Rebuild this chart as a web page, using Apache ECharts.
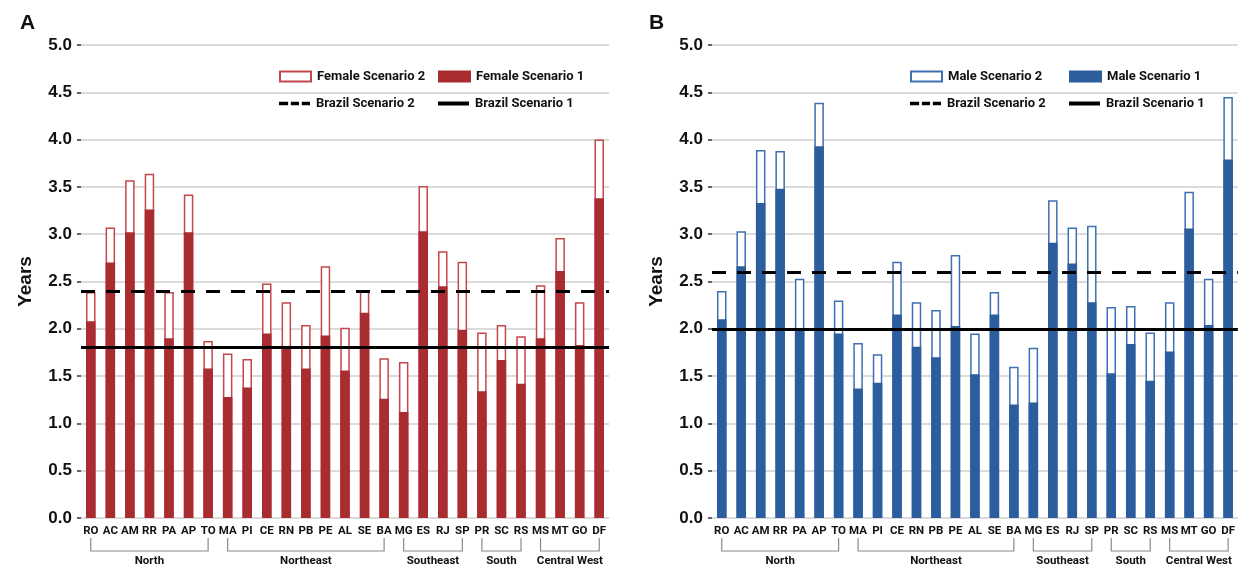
<!DOCTYPE html>
<html>
<head>
<meta charset="utf-8">
<script src="https://cdn.jsdelivr.net/npm/echarts@6/dist/echarts.min.js"></script>
<style>
  html, body { margin: 0; padding: 0; background: #fff; }
  #chart { width: 1238px; height: 568px; }
</style>
</head>
<body>
<div id="chart"></div>
<script>
const states = ['RO','AC','AM','RR','PA','AP','TO','MA','PI','CE','RN','PB','PE','AL','SE','BA','MG','ES','RJ','SP','PR','SC','RS','MS','MT','GO','DF']

const femaleScenario1 = [2.08,2.70,3.02,3.26,1.90,3.02,1.58,1.28,1.38,1.95,1.81,1.58,1.93,1.56,2.17,1.26,1.12,3.03,2.45,1.99,1.34,1.67,1.42,1.90,2.61,1.83,3.38]
const femaleScenario2 = [2.39,3.07,3.57,3.64,2.39,3.42,1.87,1.74,1.68,2.48,2.28,2.04,2.66,2.01,2.40,1.69,1.65,3.51,2.82,2.71,1.96,2.04,1.92,2.46,2.96,2.28,4.00]
const maleScenario1 = [2.10,2.66,3.33,3.48,1.99,3.93,1.95,1.37,1.43,2.15,1.81,1.70,2.03,1.52,2.15,1.20,1.22,2.91,2.69,2.28,1.53,1.84,1.45,1.76,3.06,2.04,3.79]
const maleScenario2 = [2.40,3.03,3.89,3.88,2.53,4.39,2.30,1.85,1.73,2.71,2.28,2.20,2.78,1.95,2.39,1.60,1.80,3.36,3.07,3.09,2.23,2.24,1.96,2.28,3.45,2.53,4.45]

// Brazil reference lines: [scenario 1, scenario 2]
const brazilFemale = [1.8, 2.4]
const brazilMale = [2.0, 2.6]

const regionNames = ['North','Northeast','Southeast','South','Central West']
const regionFirst = [0, 7, 16, 20, 23]
const regionLast = [6, 15, 19, 22, 26]

const yTicks = { min: 0, max: 5, interval: 0.5 }

const RED = '#a82c30'
const RED_EDGE = '#c4474b'
const BLUE = '#2c5e9e'
const BLUE_EDGE = '#3e70b2'

const labelFont = 'Roboto, "Liberation Sans", sans-serif'
const axisFont = '"Liberation Sans", Arial, sans-serif'
const dashIcon = 'path://M0,0h10v4h-10z M13,0h9v4h-9z M25,0h9v4h-9z'

const chart = echarts.init(document.getElementById('chart'), null, { renderer: 'canvas' })

const grids = [
  { left: 81, top: 45, width: 528, height: 473 },
  { left: 712, top: 45, width: 526, height: 473 },
]

function xAxisFor(i) {
  return {
    type: 'category',
    gridIndex: i,
    data: states,
    axisLine: { show: false },
    axisTick: { show: false },
    axisLabel: {
      interval: 0,
      margin: 7,
      color: '#111',
      fontFamily: labelFont,
      fontWeight: 'bold',
      fontSize: 11.5,
    },
  }
}

function yAxisFor(i) {
  return {
    type: 'value',
    gridIndex: i,
    min: yTicks.min,
    max: yTicks.max,
    interval: yTicks.interval,
    name: 'Years',
    nameLocation: 'middle',
    nameGap: 46,
    nameTextStyle: {
      fontFamily: axisFont,
      fontWeight: 'bold',
      fontSize: 19,
      color: '#111',
    },
    axisLine: { show: false },
    axisTick: { show: true, length: 4, lineStyle: { color: '#333', width: 1.5 } },
    axisLabel: {
      margin: 9,
      formatter: (v) => v.toFixed(1),
      fontFamily: axisFont,
      fontWeight: 'bold',
      fontSize: 17,
      color: '#111',
    },
    splitLine: { lineStyle: { color: '#cfcfcf', width: 1.5 } },
  }
}

function barPair(i, prefix, s1, s2, fill, edge) {
  return [
    {
      name: prefix + ' Scenario 2',
      type: 'bar',
      xAxisIndex: i,
      yAxisIndex: i,
      data: s2,
      barWidth: 9.5,
      barGap: '-100%',
      itemStyle: { color: '#fff', borderColor: edge, borderWidth: 1.5 },
      silent: true,
    },
    {
      name: prefix + ' Scenario 1',
      type: 'bar',
      xAxisIndex: i,
      yAxisIndex: i,
      data: s1,
      barWidth: 9.5,
      barGap: '-100%',
      itemStyle: { color: fill, borderColor: fill, borderWidth: 1.5 },
      silent: true,
    },
  ]
}

function brazilLines(i, values) {
  const mk = (name, v, type) => ({
    name,
    type: 'line',
    xAxisIndex: i,
    yAxisIndex: i,
    data: [],
    z: 5,
    color: '#000',
    itemStyle: { color: '#000' },
    markLine: {
      silent: true,
      symbol: 'none',
      label: { show: false },
      lineStyle: { color: '#000', width: 3, type },
      data: [{ yAxis: v }],
    },
  })
  return [
    mk('Brazil Scenario 2', values[1], [14, 11]),
    mk('Brazil Scenario 1', values[0], 'solid'),
  ]
}

function regionBrackets(i) {
  return {
    type: 'custom',
    xAxisIndex: i,
    yAxisIndex: i,
    clip: false,
    silent: true,
    data: regionNames.map((n, k) => ({ name: n, value: [regionFirst[k], 0, regionLast[k]] })),
    encode: { x: 0, y: 1 },
    renderItem: (params, api) => {
      const a = api.coord([api.value(0), 0])
      const b = api.coord([api.value(2), 0])
      const y0 = a[1]
      return {
        type: 'group',
        children: [
          {
            type: 'polyline',
            shape: { points: [[a[0], y0 + 20], [a[0], y0 + 33], [b[0], y0 + 33], [b[0], y0 + 20]] },
            style: { stroke: '#8a8a8a', lineWidth: 1.2, fill: null },
          },
          {
            type: 'text',
            x: (a[0] + b[0]) / 2,
            y: y0 + 43,
            style: {
              text: regionNames[params.dataIndex],
              align: 'center',
              verticalAlign: 'middle',
              font: 'bold 11.5px ' + labelFont,
              fill: '#111',
            },
          },
        ],
      }
    },
  }
}

function legendsFor(x0, prefix) {
  const base = {
    orient: 'horizontal',
    selectedMode: false,
    itemGap: 8,
    textStyle: { fontFamily: labelFont, fontWeight: 'bold', fontSize: 13, color: '#111', padding: [0, 0, 0, 1] },
    padding: 0,
  }
  return [
    { ...base, left: x0 + 198, top: 70, itemWidth: 31, itemHeight: 10, data: [{ name: prefix + ' Scenario 2', icon: 'rect' }] },
    { ...base, left: x0 + 357, top: 70, itemWidth: 31, itemHeight: 10, data: [{ name: prefix + ' Scenario 1', icon: 'rect' }] },
    { ...base, left: x0 + 198, top: 97, itemWidth: 31, itemHeight: 4, data: [{ name: 'Brazil Scenario 2', icon: dashIcon }] },
    { ...base, left: x0 + 357, top: 97, itemWidth: 31, itemHeight: 4, data: [{ name: 'Brazil Scenario 1', icon: 'rect' }] },
  ]
}

const option = {
  animation: false,
  backgroundColor: '#fff',
  title: [
    { text: 'A', left: 15, top: 8, textStyle: { fontFamily: axisFont, fontWeight: 'bold', fontSize: 21, color: '#111' } },
    { text: 'B', left: 644, top: 8, textStyle: { fontFamily: axisFont, fontWeight: 'bold', fontSize: 21, color: '#111' } },
  ],
  legend: [...legendsFor(81, 'Female'), ...legendsFor(712, 'Male')],
  grid: grids,
  xAxis: [xAxisFor(0), xAxisFor(1)],
  yAxis: [yAxisFor(0), yAxisFor(1)],
  series: [
    ...barPair(0, 'Female', femaleScenario1, femaleScenario2, RED, RED_EDGE),
    ...brazilLines(0, brazilFemale),
    regionBrackets(0),
    ...barPair(1, 'Male', maleScenario1, maleScenario2, BLUE, BLUE_EDGE),
    ...brazilLines(1, brazilMale),
    regionBrackets(1),
  ],
}

chart.setOption(option)
</script>
</body>
</html>
